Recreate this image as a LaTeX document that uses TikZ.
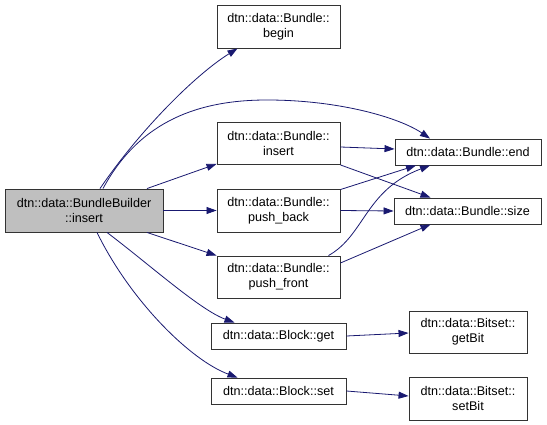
\documentclass[tikz,border=0pt]{standalone}
\usepackage{fontspec}
\setmainfont{Liberation Sans}
\usetikzlibrary{arrows.meta}
\definecolor{edgecol}{HTML}{191970}
\definecolor{boxgray}{HTML}{BFBFBF}
\definecolor{boxline}{HTML}{333333}
\begin{document}
\begin{tikzpicture}[x=1pt,y=-1pt,
  fn/.style={draw=boxline,line width=0.9pt,fill=white,align=center,inner sep=0pt,
    font=\fontsize{12.6}{15.3}\selectfont},
  call/.style={draw=edgecol,line width=0.8pt,-{Triangle[length=10pt,width=7pt]}}]
\useasboundingbox (0,0) rectangle (547,425);
\node[fn,fill=boxgray,minimum width=158pt,minimum height=43pt] (bb) at (84,210.5) {dtn::data::BundleBuilder\\::insert};
\node[fn,minimum width=123pt,minimum height=43pt] (begin) at (278.5,26.5) {dtn::data::Bundle::\\begin};
\node[fn,minimum width=123pt,minimum height=42pt] (bins) at (278.5,143.5) {dtn::data::Bundle::\\insert};
\node[fn,minimum width=123pt,minimum height=43pt] (pb) at (278.5,210.5) {dtn::data::Bundle::\\push\_back};
\node[fn,minimum width=123pt,minimum height=42pt] (pf) at (278.5,277) {dtn::data::Bundle::\\push\_front};
\node[fn,minimum width=135pt,minimum height=26pt] (get) at (278.5,336) {dtn::data::Block::get};
\node[fn,minimum width=135pt,minimum height=26pt] (set) at (278.5,391) {dtn::data::Block::set};
\node[fn,minimum width=146pt,minimum height=26pt] (end) at (468,152) {dtn::data::Bundle::end};
\node[fn,minimum width=147pt,minimum height=26pt] (size) at (467.5,211) {dtn::data::Bundle::size};
\node[fn,minimum width=118pt,minimum height=42pt] (getbit) at (468,332) {dtn::data::Bitset::\\getBit};
\node[fn,minimum width=118pt,minimum height=43pt] (setbit) at (468,398.5) {dtn::data::Bitset::\\setBit};
% edges
\draw[call] ([xshift=16pt]bb.north) .. controls (140,130) and (195,75) .. ([xshift=-41pt]begin.south);
\draw[call] ([xshift=19pt]bb.north) .. controls (140,120) and (200,100) .. (267,100) .. controls (340,100) and (400,118) .. ([xshift=-38pt]end.north);
\draw[call] ([xshift=63pt]bb.north) -- ([yshift=1pt]bins.south west);
\draw[call] (bb.east) -- (pb.west);
\draw[call] ([xshift=63pt]bb.south) -- (pf.north west);
\draw[call] ([xshift=23pt]bb.south) .. controls (150,265) and (200,310) .. ([xshift=-44pt]get.north);
\draw[call] ([xshift=13pt]bb.south) .. controls (130,300) and (190,360) .. ([xshift=-41pt]set.north);
\draw[call] ([yshift=-3.5pt]bins.east) -- ([yshift=3pt]end.west);
\draw[call] (bins.south east) -- ([xshift=-37pt]size.north);
\draw[call] ([yshift=-1pt]pb.north east) -- ([xshift=-52pt]end.south);
\draw[call] (pb.east) -- (size.west);
\draw[call] ([xshift=50pt]pf.north) .. controls (365,235) and (365,190) .. ([xshift=-38pt]end.south);
\draw[call] ([yshift=14pt]pf.east) -- ([xshift=-37pt]size.south);
\draw[call] (get.east) -- ([yshift=-1pt]getbit.west);
\draw[call] (set.east) -- ([yshift=2.5pt]setbit.west);
\end{tikzpicture}
\end{document}
